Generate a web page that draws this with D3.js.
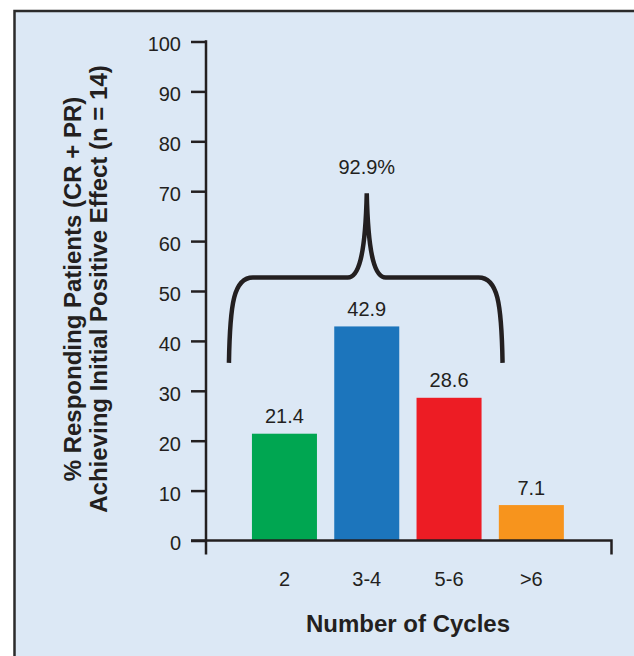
<!DOCTYPE html>
<html>
<head>
<meta charset="utf-8">
<script src="https://cdn.jsdelivr.net/npm/d3@7"></script>
<style>
  html, body { margin: 0; padding: 0; background: #ffffff; }
  svg { display: block; }
  text { font-family: "Liberation Sans", Arial, Helvetica, sans-serif; fill: #231f20; }
</style>
</head>
<body>
<svg id="chart" width="634" height="656"></svg>
<script>
// Response by number of treatment cycles
const categories = ["2", "3-4", "5-6", ">6"];
const responders = [21.4, 42.9, 28.6, 7.1];
const barColors = ["#00a651", "#1c75bc", "#ed1c24", "#f7941d"];
const yTicks = [0, 10, 20, 30, 40, 50, 60, 70, 80, 90, 100];
const bracketGroup = ["2", "3-4", "5-6"];   // cycles grouped under the brace
const yTitleLines = ["% Responding Patients (CR + PR)", "Achieving Initial Positive Effect (n = 14)"];
const xTitle = "Number of Cycles";

const ink = "#231f20";
const svg = d3.select("#chart");

// Panel background with border
svg.append("rect")
  .attr("x", 14.5).attr("y", 11)
  .attr("width", 640).attr("height", 660)
  .attr("fill", "#dce8f5")
  .attr("stroke", "#2b2b2b").attr("stroke-width", 2.5);

const y = d3.scaleLinear().domain([0, 100]).range([540.5, 41.5]);
const x = d3.scaleBand().domain(categories)
  .range([243.3, 572.5]).paddingInner(0.21).paddingOuter(0.105);

const axisX0 = 206;   // position of vertical axis
const axisRight = 611.5;
const axisBottomExt = 554.5;

// Bars
svg.append("g").selectAll("rect")
  .data(categories)
  .join("rect")
  .attr("x", d => x(d))
  .attr("y", (d, i) => y(responders[i]))
  .attr("width", x.bandwidth())
  .attr("height", (d, i) => y(0) - y(responders[i]))
  .attr("fill", (d, i) => barColors[i]);

// Value labels
svg.append("g").selectAll("text")
  .data(categories)
  .join("text")
  .attr("x", d => x(d) + x.bandwidth() / 2)
  .attr("y", (d, i) => y(responders[i]) - 10.5)
  .attr("text-anchor", "middle")
  .attr("font-size", 20)
  .text((d, i) => responders[i].toFixed(1));

// Y axis
const yAxis = svg.append("g")
  .attr("transform", `translate(${axisX0},0)`)
  .call(d3.axisLeft(y).tickValues(yTicks).tickSize(15).tickPadding(10).tickSizeOuter(0));
yAxis.select(".domain").remove();
yAxis.selectAll(".tick line").attr("stroke", ink).attr("stroke-width", 2.5);
yAxis.selectAll(".tick text")
  .attr("font-size", 20)
  .attr("font-family", "Liberation Sans, Arial, sans-serif")
  .attr("fill", ink)
  .attr("dy", "0.47em");

// Axis lines
const axisLines = svg.append("g").attr("stroke", ink).attr("stroke-width", 2.5).attr("fill", "none");
axisLines.append("line")
  .attr("x1", axisX0).attr("x2", axisX0)
  .attr("y1", y(100) - 1.25).attr("y2", axisBottomExt);
axisLines.append("path")
  .attr("d", `M${axisX0 - 15},${y(0)} H${axisRight} V${axisBottomExt}`);

// X axis labels
const xAxis = svg.append("g")
  .attr("transform", `translate(0,${y(0)})`)
  .call(d3.axisBottom(x).tickSize(0).tickPadding(31));
xAxis.select(".domain").remove();
xAxis.selectAll(".tick text")
  .attr("font-size", 20)
  .attr("font-family", "Liberation Sans, Arial, sans-serif")
  .attr("fill", ink);

// Axis titles
svg.append("text")
  .attr("x", 408).attr("y", 631.5)
  .attr("text-anchor", "middle")
  .attr("font-size", 24).attr("font-weight", "bold")
  .text(xTitle);

const yTitle = svg.append("text")
  .attr("transform", "translate(0,289) rotate(-90)")
  .attr("text-anchor", "middle")
  .attr("font-size", 24).attr("font-weight", "bold");
yTitle.selectAll("tspan")
  .data(yTitleLines)
  .join("tspan")
  .attr("x", 0)
  .attr("y", (d, i) => [80.5, 106.5][i])
  .text(d => d);

// Brace over the first three groups with their combined share
const groupTotal = d3.sum(bracketGroup, c => responders[categories.indexOf(c)]);
const bL = x(bracketGroup[0]) - 23;
const bR = x(bracketGroup[bracketGroup.length - 1]) + x.bandwidth() + 21;
const bMid = x("3-4") + x.bandwidth() / 2;
const yFoot = y(35.6), yBar = y(52.7), yTip = y(69.6);
const bracePath = [
  `M${bL},${yFoot}`,
  `C${bL + 1},${yBar + 25} ${bL + 5},${yBar} ${bL + 24},${yBar}`,
  `H${bMid - 19}`,
  `C${bMid - 9},${yBar} ${bMid - 1.5},${yBar - 18} ${bMid},${yTip}`,
  `C${bMid + 1.5},${yBar - 18} ${bMid + 9},${yBar} ${bMid + 19},${yBar}`,
  `H${bR - 24}`,
  `C${bR - 5},${yBar} ${bR - 1},${yBar + 25} ${bR},${yFoot}`
].join(" ");
svg.append("path")
  .attr("d", bracePath)
  .attr("fill", "none")
  .attr("stroke", ink)
  .attr("stroke-width", 4.5)
  .attr("stroke-linejoin", "miter");

svg.append("text")
  .attr("x", bMid).attr("y", yTip - 19)
  .attr("text-anchor", "middle")
  .attr("font-size", 20)
  .text(groupTotal.toFixed(1) + "%");
</script>
</body>
</html>
